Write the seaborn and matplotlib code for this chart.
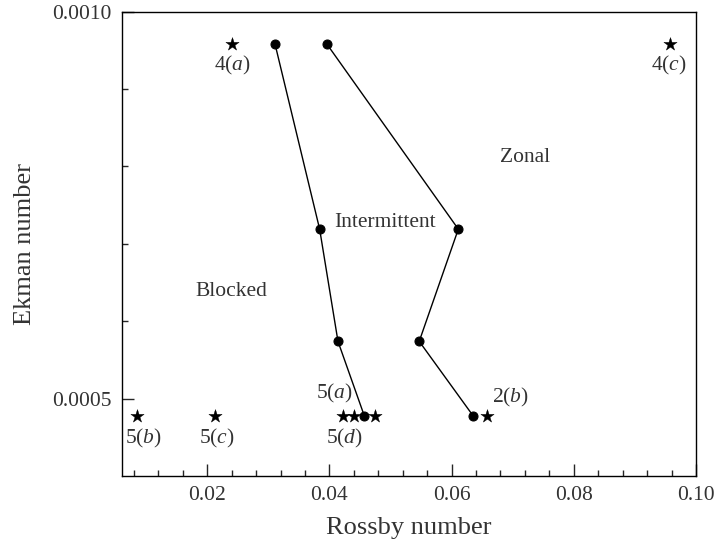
import matplotlib
matplotlib.use("Agg")
import matplotlib.pyplot as plt
import seaborn as sns
import pandas as pd
from matplotlib.ticker import FixedLocator, MultipleLocator

sns.set_style("ticks")
plt.rcParams['font.family'] = ['Liberation Serif', 'DejaVu Serif']
plt.rcParams['mathtext.fontset'] = 'custom'
plt.rcParams['mathtext.it'] = 'Liberation Serif:italic'
plt.rcParams['mathtext.rm'] = 'Liberation Serif'

# Boundary curves (Rossby, Ekman)
left_ro = [0.0311, 0.0384, 0.0414, 0.0457]
left_ek = [0.000958, 0.000719, 0.000574, 0.000478]
right_ro = [0.0396, 0.0611, 0.0547, 0.0635]
right_ek = [0.000958, 0.000719, 0.000574, 0.000478]

# Star experiments
star_ro = [0.0240, 0.0958, 0.0085, 0.0213, 0.0422, 0.0440, 0.0475, 0.0658]
star_ek = [0.000958, 0.000958, 0.000478, 0.000478, 0.000478, 0.000478, 0.000478, 0.000478]

# Labels
label_text = ["4($\\mathit{a}$)", "4($\\mathit{c}$)", "5($\\mathit{b}$)", "5($\\mathit{c}$)",
              "5($\\mathit{a}$)", "5($\\mathit{d}$)", "2($\\mathit{b}$)",
              "Zonal", "Intermittent", "Blocked"]
label_ro = [0.0241, 0.0956, 0.0096, 0.0216, 0.0409, 0.0424, 0.0696, 0.0720, 0.0491, 0.0239]
label_ek = [0.000931, 0.000931, 0.000448, 0.000448, 0.000507, 0.000448, 0.000502, 0.000812, 0.000727, 0.000638]

xticks = [0.02, 0.04, 0.06, 0.08, 0.10]
xticklabels = ["0.02", "0.04", "0.06", "0.08", "0.10"]
yticks = [0.0005, 0.0010]
yticklabels = ["0.0005", "0.0010"]

fig = plt.figure(figsize=(7.16, 5.44), dpi=100)
ax = fig.add_axes([0.170, 0.125, 0.802, 0.8535])

df_l = pd.DataFrame({"Ro": left_ro, "Ek": left_ek})
df_r = pd.DataFrame({"Ro": right_ro, "Ek": right_ek})
df_s = pd.DataFrame({"Ro": star_ro, "Ek": star_ek})

for d in (df_l, df_r):
    sns.lineplot(data=d, x="Ro", y="Ek", sort=False, estimator=None, ax=ax,
                 color="black", linewidth=1.0, marker="o", markersize=6.5,
                 markeredgecolor="black", markerfacecolor="black")

sns.scatterplot(data=df_s, x="Ro", y="Ek", marker="*", s=100, color="black",
                edgecolor="black", linewidth=0.3, ax=ax, zorder=3)

txtcolor = "#333333"
for t, x, y in zip(label_text, label_ro, label_ek):
    ax.text(x, y, t, ha="center", va="center", fontsize=15.5, color=txtcolor)

ax.set_xlim(0.006, 0.10)
ax.set_ylim(0.0004, 0.0010)
ax.xaxis.set_major_locator(FixedLocator(xticks))
ax.set_xticklabels(xticklabels)
ax.xaxis.set_minor_locator(MultipleLocator(0.004))
ax.yaxis.set_major_locator(FixedLocator(yticks))
ax.set_yticklabels(yticklabels)
ax.yaxis.set_minor_locator(FixedLocator([0.0006, 0.0007, 0.0008, 0.0009]))

ax.tick_params(which="major", direction="in", length=8.6, width=1, labelsize=15.5,
               labelcolor=txtcolor, pad=7)
ax.tick_params(which="minor", direction="in", length=4.5, width=1)

ax.set_xlabel("Rossby number", fontsize=19, color=txtcolor, labelpad=9)
ax.set_ylabel("Ekman number", fontsize=19, color=txtcolor, labelpad=12)
for s in ax.spines.values():
    s.set_linewidth(1.0)
    s.set_color("black")

fig.savefig("out.png", dpi=100)
